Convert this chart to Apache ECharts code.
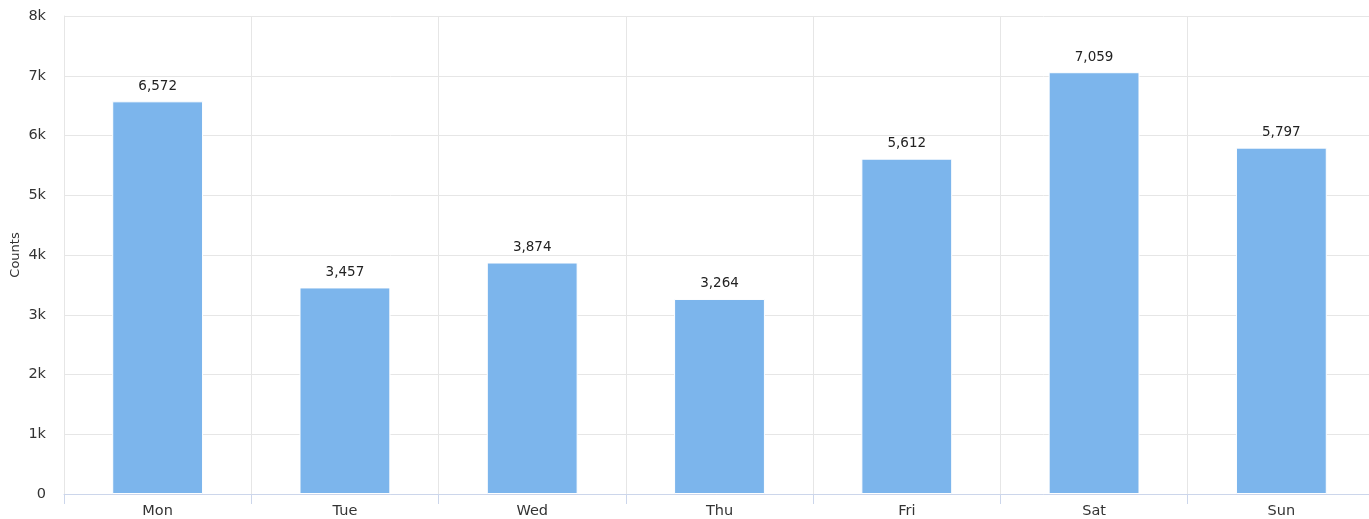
<!DOCTYPE html>
<html><head><meta charset="utf-8">
<script src="https://cdn.jsdelivr.net/npm/echarts@6/dist/echarts.min.js"></script>
<style>html,body{margin:0;padding:0;background:#fff;overflow:hidden}#c{width:1369px;height:519px}</style>
</head><body><div id="c"></div>
<script>
const categories = ["Mon","Tue","Wed","Thu","Fri","Sat","Sun"];
const counts = [6572, 3457, 3874, 3264, 5612, 7059, 5797];
const yTicks = [0,1000,2000,3000,4000,5000,6000,7000,8000];
const FONT = "DejaVu Sans";
const chart = echarts.init(document.getElementById('c'));
chart.setOption({
  animation:false,
  textStyle:{fontFamily:FONT},
  grid:{left:64,right:-6,top:16,bottom:25,containLabel:false,outerBoundsMode:'none'},
  xAxis:{type:'category',data:categories,
    axisLine:{lineStyle:{color:'#ccd6eb',width:1}},
    axisTick:{show:true,length:10,lineStyle:{color:'#ccd6eb'}},
    axisLabel:{color:'#333',fontSize:14.5,fontFamily:FONT,margin:10},
    splitLine:{show:true,lineStyle:{color:'#e6e6e6'}}
  },
  yAxis:{type:'value',min:0,max:8000,interval:1000,
    name:'Counts',nameLocation:'middle',nameGap:42,nameRotate:90,nameMoveOverlap:false,
    nameTextStyle:{color:'#333',fontSize:13,fontFamily:FONT},
    axisLine:{show:true,lineStyle:{color:'#e6e6e6'}},
    axisTick:{show:false},
    axisLabel:{color:'#333',fontSize:14.5,fontFamily:FONT,margin:18,
      formatter:v=>v===0?'0':(v/1000)+'k'},
    splitLine:{lineStyle:{color:'#e6e6e6'}}
  },
  series:[{type:'bar',data:counts,barWidth:'48.5%',
    itemStyle:{color:'#7cb5ec',borderColor:'#fff',borderWidth:1},
    label:{show:true,position:'top',distance:8,color:'#222',fontSize:13.5,fontFamily:FONT,
      formatter:p=>p.value.toLocaleString('en-US')}
  }]
});
</script></body></html>
